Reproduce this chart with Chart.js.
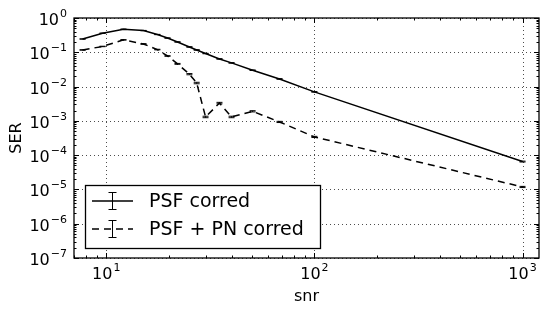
<!DOCTYPE html>
<html>
<head>
<meta charset="utf-8">
<script src="https://cdn.jsdelivr.net/npm/chart.js@4"></script>
<style>
  body { margin: 0; background: #fff; }
  #ser-chart { display: block; }
</style>
</head>
<body>
<canvas id="ser-chart" width="550" height="316"></canvas>
<script>
// snr values and the two SER curves
const snr = [7.7, 9.6, 12.1, 15.1, 17.6, 19.7, 22, 25.1, 27.2, 30, 35, 40, 50.5, 68, 100, 1000];
const serPSF = [0.244, 0.36, 0.47, 0.43, 0.33, 0.26, 0.20, 0.143, 0.117, 0.092, 0.064, 0.049, 0.030, 0.0167, 0.0070, 6.5e-5];
const serPN = [0.117, 0.148, 0.23, 0.175, 0.12, 0.078, 0.046, 0.023, 0.0127, 0.0013, 0.0033, 0.0013, 0.0019, 9.3e-4, 3.4e-4, 1.18e-5];
// relative error for each point (error bars are tiny)
const errPSF = [0.01, 0.01, 0.01, 0.01, 0.01, 0.01, 0.01, 0.015, 0.015, 0.015, 0.015, 0.02, 0.02, 0.02, 0.02, 0.03];
const errPN = [0.015, 0.015, 0.015, 0.02, 0.02, 0.02, 0.03, 0.04, 0.05, 0.05, 0.05, 0.05, 0.04, 0.04, 0.04, 0.04];

const xTicks = [10, 100, 1000];
const yTicks = [1e-7, 1e-6, 1e-5, 1e-4, 1e-3, 1e-2, 1e-1, 1];
const labels = ["PSF corred", "PSF + PN corred"];

const FONT = '"DejaVu Sans", sans-serif';

function points(ys) {
    return snr.map((x, i) => ({ x: x, y: ys[i] }));
}

function minors(lo, hi) {
    const out = [];
    for (let d = Math.floor(Math.log10(lo)); d <= Math.ceil(Math.log10(hi)); d++) {
        for (let k = 2; k <= 9; k++) {
            const v = k * Math.pow(10, d);
            if (v >= lo && v <= hi) out.push(v);
        }
    }
    return out;
}

function drawPow(ctx, exp, x, y, align) {
    // "10" with superscript exponent, like matplotlib mathtext
    const base = '10';
    const sup = exp < 0 ? '\u2212' + Math.abs(exp) : String(exp);
    ctx.font = '16px ' + FONT;
    const wb = ctx.measureText(base).width;
    ctx.font = '11px ' + FONT;
    const ws = ctx.measureText(sup).width;
    const total = wb + ws + 1;
    let left = x;
    if (align === 'center') left = x - total / 2;
    if (align === 'right') left = x - total;
    ctx.textAlign = 'left';
    ctx.textBaseline = 'alphabetic';
    ctx.font = '16px ' + FONT;
    ctx.fillText(base, left, y);
    ctx.font = '11px ' + FONT;
    ctx.fillText(sup, left + wb + 1, y - 8);
}

function errorBar(ctx, px, yTop, yBot, cap) {
    ctx.beginPath();
    ctx.moveTo(px, yTop); ctx.lineTo(px, yBot);
    ctx.moveTo(px - cap, yTop); ctx.lineTo(px + cap, yTop);
    ctx.moveTo(px - cap, yBot); ctx.lineTo(px + cap, yBot);
    ctx.stroke();
}

const overlay = {
    id: 'overlay',
    beforeDatasetsDraw(chart) {
        const { ctx, chartArea: a, scales } = chart;
        ctx.save();
        ctx.strokeStyle = '#000';
        ctx.lineWidth = 0.7;
        ctx.setLineDash([1, 3]);
        xTicks.forEach(v => {
            const px = Math.round(scales.x.getPixelForValue(v)) + 0.5;
            ctx.beginPath(); ctx.moveTo(px, a.top); ctx.lineTo(px, a.bottom); ctx.stroke();
        });
        yTicks.forEach(v => {
            const py = Math.round(scales.y.getPixelForValue(v)) + 0.5;
            ctx.beginPath(); ctx.moveTo(a.left, py); ctx.lineTo(a.right, py); ctx.stroke();
        });
        ctx.restore();
    },
    afterDatasetsDraw(chart) {
        const { ctx, scales } = chart;
        const errs = [errPSF, errPN];
        ctx.save();
        ctx.strokeStyle = '#000';
        ctx.lineWidth = 1;
        chart.data.datasets.forEach((ds, di) => {
            ds.data.forEach((p, i) => {
                const e = errs[di][i];
                const px = scales.x.getPixelForValue(p.x);
                const yTop = scales.y.getPixelForValue(p.y * (1 + e));
                const yBot = scales.y.getPixelForValue(p.y * (1 - e));
                errorBar(ctx, px, yTop, yBot, 3);
            });
        });
        ctx.restore();
    },
    afterDraw(chart) {
        const { ctx, chartArea: a, scales } = chart;
        ctx.save();
        ctx.strokeStyle = '#000';
        ctx.fillStyle = '#000';
        ctx.lineWidth = 1;

        // ticks on all four sides, pointing in
        const xs = scales.x, ys = scales.y;
        const tick = (x1, y1, x2, y2) => { ctx.beginPath(); ctx.moveTo(x1, y1); ctx.lineTo(x2, y2); ctx.stroke(); };
        xTicks.forEach(v => {
            const px = Math.round(xs.getPixelForValue(v)) + 0.5;
            tick(px, a.bottom, px, a.bottom - 5);
            tick(px, a.top, px, a.top + 5);
        });
        minors(xs.min, xs.max).forEach(v => {
            const px = Math.round(xs.getPixelForValue(v)) + 0.5;
            tick(px, a.bottom, px, a.bottom - 2.5);
            tick(px, a.top, px, a.top + 2.5);
        });
        yTicks.forEach(v => {
            const py = Math.round(ys.getPixelForValue(v)) + 0.5;
            tick(a.left, py, a.left + 5, py);
            tick(a.right, py, a.right - 5, py);
        });
        minors(ys.min, ys.max).forEach(v => {
            const py = Math.round(ys.getPixelForValue(v)) + 0.5;
            tick(a.left, py, a.left + 2.5, py);
            tick(a.right, py, a.right - 2.5, py);
        });

        // frame
        ctx.lineWidth = 1.3;
        ctx.strokeRect(a.left, a.top, a.right - a.left, a.bottom - a.top);

        // tick labels
        xTicks.forEach(v => drawPow(ctx, Math.round(Math.log10(v)), xs.getPixelForValue(v), a.bottom + 21, 'center'));
        yTicks.forEach(v => drawPow(ctx, Math.round(Math.log10(v)), a.left - 7, ys.getPixelForValue(v) + 7, 'right'));

        // axis titles
        ctx.font = '16px ' + FONT;
        ctx.textAlign = 'center';
        ctx.textBaseline = 'middle';
        ctx.fillText('snr', (a.left + a.right) / 2, 297);
        ctx.save();
        ctx.translate(17, (a.top + a.bottom) / 2);
        ctx.rotate(-Math.PI / 2);
        ctx.fillText('SER', 0, 0);
        ctx.restore();

        // legend
        const lx = 85.5, ly = 185.5, lw = 235, lh = 63;
        ctx.fillStyle = '#fff';
        ctx.fillRect(lx, ly, lw, lh);
        ctx.lineWidth = 1.3;
        ctx.strokeRect(lx, ly, lw, lh);
        ctx.fillStyle = '#000';
        const rows = [201, 229];
        chart.data.datasets.forEach((ds, i) => {
            const y = rows[i];
            ctx.lineWidth = 1.5;
            ctx.setLineDash(ds.borderDash || []);
            ctx.beginPath(); ctx.moveTo(92, y); ctx.lineTo(133, y); ctx.stroke();
            ctx.setLineDash([]);
            ctx.lineWidth = 1;
            errorBar(ctx, 112.5, y - 8.5, y + 8.5, 4);
            ctx.font = '19px ' + FONT;
            ctx.textAlign = 'left';
            ctx.textBaseline = 'middle';
            ctx.fillText(ds.label, 149, y + 1);
        });
        ctx.restore();
    }
};

const serChart = new Chart(document.getElementById('ser-chart'), {
    type: 'line',
    data: {
        datasets: [{
            label: labels[0],
            data: points(serPSF),
            borderColor: '#000',
            borderWidth: 1.5,
            pointRadius: 0,
            tension: 0
        }, {
            label: labels[1],
            data: points(serPN),
            borderColor: '#000',
            borderWidth: 1.5,
            borderDash: [7, 5],
            pointRadius: 0,
            tension: 0
        }]
    },
    options: {
        responsive: false,
        animation: false,
        layout: { padding: { top: 18, right: 11, left: 0, bottom: 0 } },
        scales: {
            x: {
                type: 'logarithmic',
                min: 7,
                max: 1200,
                ticks: { display: false },
                grid: { display: false },
                border: { display: false },
                afterFit: s => { s.height = 58; }
            },
            y: {
                type: 'logarithmic',
                min: 1e-7,
                max: 1,
                ticks: { display: false },
                grid: { display: false },
                border: { display: false },
                afterFit: s => { s.width = 74; }
            }
        },
        plugins: {
            legend: { display: false },
            tooltip: { enabled: false }
        }
    },
    plugins: [overlay]
});
</script>
</body>
</html>
